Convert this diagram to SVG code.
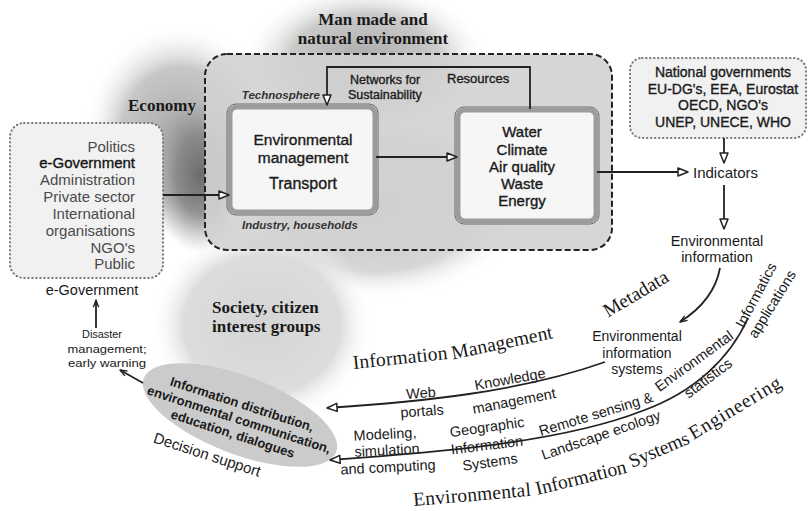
<svg xmlns="http://www.w3.org/2000/svg" width="809" height="511" viewBox="0 0 809 511">
<defs>
  <radialGradient id="gEco" cx="0.5" cy="0.5" r="0.5">
    <stop offset="0" stop-color="#a6a6a6"/>
    <stop offset="0.6" stop-color="#bdbdbd" stop-opacity="0.85"/>
    <stop offset="1" stop-color="#ffffff" stop-opacity="0"/>
  </radialGradient>
  <radialGradient id="gDark" cx="0.5" cy="0.5" r="0.5">
    <stop offset="0" stop-color="#6c6c6c"/>
    <stop offset="0.5" stop-color="#808080" stop-opacity="0.8"/>
    <stop offset="1" stop-color="#a0a0a0" stop-opacity="0"/>
  </radialGradient>
  <radialGradient id="gMan" cx="0.5" cy="0.5" r="0.5">
    <stop offset="0" stop-color="#a8a8a8"/>
    <stop offset="0.6" stop-color="#c0c0c0" stop-opacity="0.85"/>
    <stop offset="1" stop-color="#ffffff" stop-opacity="0"/>
  </radialGradient>
  <radialGradient id="gSoc" cx="0.5" cy="0.5" r="0.5">
    <stop offset="0" stop-color="#d4d4d4"/>
    <stop offset="0.7" stop-color="#d9d9d9" stop-opacity="0.9"/>
    <stop offset="1" stop-color="#ffffff" stop-opacity="0"/>
  </radialGradient>
  <radialGradient id="gLow" cx="0.5" cy="0.5" r="0.5">
    <stop offset="0" stop-color="#c0c0c0"/>
    <stop offset="0.7" stop-color="#cdcdcd" stop-opacity="0.8"/>
    <stop offset="1" stop-color="#ffffff" stop-opacity="0"/>
  </radialGradient>
  <marker id="arr" viewBox="0 0 12 10" refX="11" refY="5" markerWidth="12" markerHeight="10" markerUnits="userSpaceOnUse" orient="auto-start-reverse">
    <path d="M1,1 L11,5 L1,9 Z" fill="#ffffff" stroke="#222" stroke-width="1.5" stroke-linejoin="round"/>
  </marker>
  <marker id="arrS" viewBox="0 0 10 8" refX="9" refY="4" markerWidth="9" markerHeight="8" markerUnits="userSpaceOnUse" orient="auto-start-reverse">
    <path d="M1,1 L9,4 L1,7" fill="none" stroke="#222" stroke-width="1.5" stroke-linejoin="round"/>
  </marker>
</defs>
<style>
  text { font-family: "Liberation Sans", Arial, sans-serif; fill: #1a1a1a; }
  .serif { font-family: "Liberation Serif", "Times New Roman", serif; font-weight: bold; font-size: 17px; fill: #1a1a1a; }
  .serifR { font-family: "Liberation Serif", "Times New Roman", serif; font-size: 19.5px; fill: #1a1a1a; text-anchor: middle; }
  .heavy { stroke: #1a1a1a; stroke-width: 0.35; }
  .lbl { font-size: 14.5px; text-anchor: middle; }
  .lft { font-size: 15px; fill: #4a4a4a; text-anchor: end; }
  .c { text-anchor: middle; }
  .it { font-style: italic; font-weight: bold; font-size: 11.5px; fill: #333; }
  .line { fill: none; stroke: #222; stroke-width: 1.8; }
</style>
<rect width="809" height="511" fill="#ffffff"/>

<g id="backgrounds">
  <ellipse cx="375" cy="205" rx="150" ry="95" fill="url(#gLow)"/>
  <ellipse cx="365" cy="62" rx="125" ry="80" fill="url(#gMan)"/>
  <ellipse cx="180" cy="135" rx="98" ry="112" fill="url(#gEco)"/>
  <ellipse cx="200" cy="175" rx="48" ry="78" fill="url(#gDark)"/>
  <ellipse cx="262" cy="325" rx="112" ry="100" fill="url(#gSoc)"/>
</g>

<g id="titles">
  <text class="serif c" x="373" y="25">Man made and</text>
  <text class="serif c" x="373" y="44">natural environment</text>
  <text class="serif" x="128" y="111">Economy</text>
  <text class="serif" x="212" y="313">Society, citizen</text>
  <text class="serif" x="212" y="332">interest groups</text>
</g>

<g id="technosphere">
  <rect x="205" y="54" width="407" height="196" rx="22" fill="#d2d2d2" fill-opacity="0.9" stroke="#222" stroke-width="2" stroke-dasharray="6 3"/>
  <text class="it" x="320" y="99" text-anchor="end">Technosphere</text>
  <text class="it" x="242" y="229">Industry, households</text>
  <text x="350" y="84" font-size="12.5" class="heavy">Networks for</text>
  <text x="348" y="99" font-size="12.5" class="heavy">Sustainability</text>
  <text x="447" y="83" font-size="13" class="heavy">Resources</text>
</g>

<g id="box-management">
  <rect x="227" y="104" width="151" height="111" rx="9" fill="none" stroke="#6a6a6a" stroke-width="1"/>
  <rect x="230" y="107" width="145" height="105" rx="7" fill="#f6f6f6" stroke="#9c9c9c" stroke-width="5"/>
  <text class="c heavy" x="303" y="145" font-size="15.5">Environmental</text>
  <text class="c heavy" x="303" y="163" font-size="15.5">management</text>
  <text class="c heavy" x="303" y="189" font-size="16">Transport</text>
</g>

<g id="box-resources">
  <rect x="455" y="107" width="144" height="117" rx="9" fill="none" stroke="#6a6a6a" stroke-width="1"/>
  <rect x="458" y="110" width="138" height="111" rx="7" fill="#f6f6f6" stroke="#9c9c9c" stroke-width="5"/>
  <text class="c heavy" x="522" y="137" font-size="15">Water</text>
  <text class="c heavy" x="522" y="155" font-size="15">Climate</text>
  <text class="c heavy" x="522" y="172" font-size="15">Air quality</text>
  <text class="c heavy" x="522" y="189" font-size="15">Waste</text>
  <text class="c heavy" x="522" y="206" font-size="15">Energy</text>
</g>

<g id="actors">
  <rect x="10" y="123" width="153" height="155" rx="14" fill="#f1f1f1" stroke="#777" stroke-width="2" stroke-dasharray="0.5 3.5" stroke-linecap="round"/>
  <text class="lft" x="135" y="152">Politics</text>
  <text class="lft heavy" x="135" y="168" style="fill:#111">e-Government</text>
  <text class="lft" x="135" y="185">Administration</text>
  <text class="lft" x="135" y="202">Private sector</text>
  <text class="lft" x="135" y="219">International</text>
  <text class="lft" x="135" y="236">organisations</text>
  <text class="lft" x="135" y="253">NGO's</text>
  <text class="lft" x="135" y="269">Public</text>
</g>

<g id="egov">
  <text class="c" x="92" y="295" font-size="14.5">e-Government</text>
</g>

<g id="disaster">
  <text class="c" x="102" y="338" font-size="11" textLength="40" lengthAdjust="spacingAndGlyphs">Disaster</text>
  <text class="c" x="107" y="353" font-size="11" textLength="79" lengthAdjust="spacingAndGlyphs">management;</text>
  <text class="c" x="107" y="367" font-size="11" textLength="78" lengthAdjust="spacingAndGlyphs">early warning</text>
</g>

<g id="agencies">
  <rect x="630" y="58" width="176" height="80" rx="12" fill="#f1f1f1" stroke="#777" stroke-width="2" stroke-dasharray="0.5 3.5" stroke-linecap="round"/>
  <text class="c heavy" x="723" y="77" font-size="14">National governments</text>
  <text class="c heavy" x="723" y="94" font-size="14">EU-DG's, EEA, Eurostat</text>
  <text class="c heavy" x="723" y="110" font-size="14">OECD, NGO's</text>
  <text class="c heavy" x="723" y="127" font-size="14">UNEP, UNECE, WHO</text>
</g>

<g id="indicators">
  <text x="693" y="178" font-size="15">Indicators</text>
</g>

<g id="env-info">
  <text class="c" x="717" y="246" font-size="14.5">Environmental</text>
  <text class="c" x="717" y="262" font-size="14.5">information</text>
</g>

<g id="eis">
  <text class="c" x="637" y="341" font-size="14">Environmental</text>
  <text class="c" x="637" y="358" font-size="14">information</text>
  <text class="c" x="637" y="374" font-size="14">systems</text>
</g>

<g id="dissemination">
  <ellipse cx="240" cy="415" rx="103" ry="39" transform="rotate(21 240 415)" fill="#cbcbcb"/>
  <g transform="translate(240 415) rotate(18)">
    <text class="c" x="-1.5" y="-6.5" font-size="13" font-weight="bold">Information distribution,</text>
    <text class="c" x="0.5" y="9" font-size="13" font-weight="bold">environmental communication,</text>
    <text class="c" x="-1" y="24.5" font-size="13" font-weight="bold">education, dialogues</text>
    <text class="c" x="-19" y="53" font-size="15">Decision support</text>
  </g>
</g>

<g id="arc-labels">
  <text class="serifR" x="400" y="364" transform="rotate(-6 400 358)" textLength="95" lengthAdjust="spacing">Information</text>
  <text class="serifR" x="502" y="349" transform="rotate(-12 502 343)" textLength="103" lengthAdjust="spacing">Management</text>
  <text class="serifR" x="636" y="300" transform="rotate(-31 636 294)">Metadata</text>

  <text class="serifR" x="472" y="501" transform="rotate(-5 472 495)" textLength="118" lengthAdjust="spacing">Environmental</text>
  <text class="serifR" x="581" y="484" transform="rotate(-14 581 478)" textLength="93" lengthAdjust="spacing">Information</text>
  <text class="serifR" x="659" y="456" transform="rotate(-23 659 450)" textLength="64" lengthAdjust="spacing">Systems</text>
  <text class="serifR" x="735" y="414" transform="rotate(-31 735 408)" textLength="104" lengthAdjust="spacing">Engineering</text>

  <text class="lbl" x="596" y="419" transform="rotate(-17 596 414)">Remote sensing &amp;</text>
  <text class="lbl" x="694" y="366" transform="rotate(-36 694 361)">Environmental</text>
  <text class="lbl" x="756" y="300" transform="rotate(-62 756 295)">Informatics</text>

  <text class="lbl" x="421" y="398" transform="rotate(-4 421 393)">Web</text>
  <text class="lbl" x="422" y="416" transform="rotate(-4 422 411)">portals</text>
  <text class="lbl" x="510" y="384" transform="rotate(-10 510 379)">Knowledge</text>
  <text class="lbl" x="514" y="406" transform="rotate(-11 514 401)">management</text>
  <text class="lbl" x="385" y="439" transform="rotate(-3 385 434)">Modeling,</text>
  <text class="lbl" x="387" y="455" transform="rotate(-3 387 450)">simulation</text>
  <text class="lbl" x="388" y="472" transform="rotate(-3 388 467)">and computing</text>
  <text class="lbl" x="487" y="432" transform="rotate(-8 487 427)">Geographic</text>
  <text class="lbl" x="487" y="450" transform="rotate(-7 487 445)">Information</text>
  <text class="lbl" x="490" y="467" transform="rotate(-8 490 462)">Systems</text>
  <text class="lbl" x="601" y="440" transform="rotate(-19 601 435)">Landscape ecology</text>
  <text class="lbl" x="708" y="383" transform="rotate(-37 708 378)">statistics</text>
  <text class="lbl" x="772" y="309" transform="rotate(-58 772 304)">applications</text>
</g>

<g id="connectors">
  <path class="line" d="M163 195 H229" marker-end="url(#arr)"/>
  <path class="line" d="M376 157 H457" marker-end="url(#arr)"/>
  <path class="line" d="M530 109 V67 H327 V105" marker-end="url(#arr)"/>
  <path class="line" d="M597 172 H688" marker-end="url(#arr)"/>
  <path class="line" d="M724 138 V163" marker-end="url(#arr)"/>
  <path class="line" d="M724 185 V229" marker-end="url(#arr)"/>
  <path class="line" d="M720 268 C 716 290, 702 308, 680 322" stroke-width="1.4" marker-end="url(#arrS)"/>
  <path class="line" d="M605 362 C 520 392, 420 402, 327 408" marker-end="url(#arr)"/>
  <path class="line" d="M748 318 C 730 358, 695 392, 642 411 C 560 443, 430 453, 330 460" marker-end="url(#arr)"/>
  <path class="line" d="M96 328 V300" stroke-width="1.5" marker-end="url(#arrS)"/>
  <path class="line" d="M143 383 L120 370" stroke-width="1.5" marker-end="url(#arrS)"/>
</g>
</svg>
